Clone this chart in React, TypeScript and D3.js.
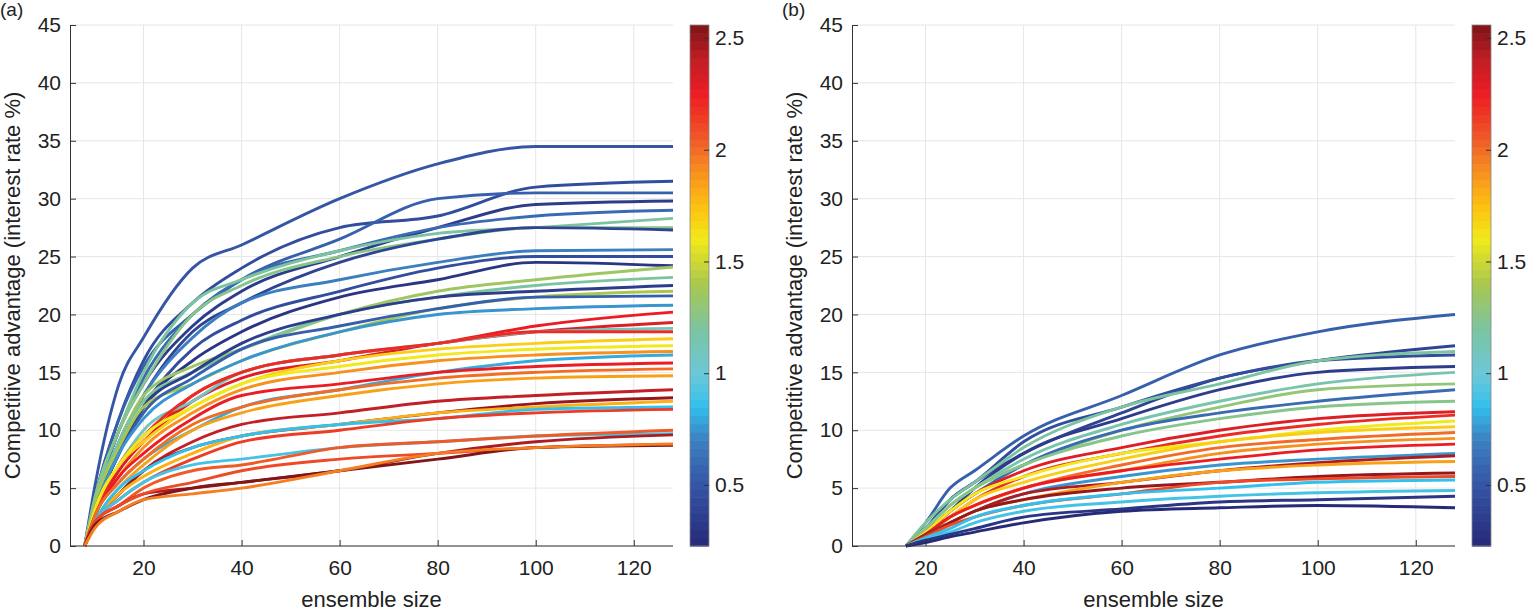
import React, { useEffect, useRef } from 'react'
import * as d3 from 'd3'

// x positions of sampled points (first point is the zero start)
const xsA = [8, 10, 15, 20, 30, 40, 60, 80, 100, 128]
const xsB = [16, 20, 25, 30, 40, 60, 80, 100, 128]

// [colour value, ...y values after the zero start]
const linesA: number[][] = [
  [0.5, 5, 14, 18, 24, 26, 30, 33, 34.5, 34.5],
  [0.45, 4, 11, 16, 21, 24, 27.5, 28.5, 31, 31.5],
  [0.55, 4, 11, 15.5, 20, 23, 26.5, 30, 30.5, 30.5],
  [0.35, 3.5, 10, 14, 19, 22, 25, 27.5, 29.5, 29.8],
  [0.6, 3.5, 10, 14.5, 20, 23, 25.5, 27.5, 28.5, 29],
  [1.2, 4, 10, 15, 21, 23, 25.5, 27, 27.5, 28.3],
  [1.25, 4, 10, 14, 20, 22.5, 25, 26.5, 27.5, 27.5],
  [0.4, 3, 9, 13, 18.5, 21, 24.5, 26.5, 27.5, 27.3],
  [0.7, 3, 9, 13, 18, 21, 23, 24.5, 25.5, 25.6],
  [0.45, 3, 8, 12, 17, 19.5, 22, 24, 25, 25],
  [0.3, 3, 8, 12, 16, 18.5, 21.5, 23, 24.5, 24.2],
  [1.35, 3.5, 9, 13, 15.5, 17, 20, 22, 23, 24.1],
  [1.2, 3.5, 9, 12.5, 15, 17, 20, 21.5, 22.5, 23.2],
  [0.35, 3, 8, 12, 15, 17.5, 20, 21.5, 22, 22.5],
  [1.4, 3.5, 8.5, 12, 14, 16, 18.5, 20.5, 21.5, 22],
  [0.55, 3, 8, 11.5, 14.5, 17, 19, 20.5, 21.5, 21.6],
  [0.75, 3, 8, 11, 14, 16, 18.5, 20, 20.5, 20.8],
  [2.25, 2.5, 7, 9, 13, 15, 16.5, 17.5, 19, 20.2],
  [2.3, 2.5, 6.5, 9, 12.5, 14.5, 16, 17.5, 18.5, 19.3],
  [1.1, 3, 7, 10, 12.5, 15, 16.5, 17.5, 18.5, 18.8],
  [2.2, 2.5, 7, 9.5, 13, 15, 16.5, 17.5, 18.5, 18.5],
  [1.7, 3, 7, 9, 12, 14, 16, 17, 17.5, 17.9],
  [1.6, 3, 7, 9.5, 12, 14, 15.5, 16.5, 17, 17.3],
  [1.9, 2.5, 6, 8.5, 11.5, 13.5, 15, 16, 16.5, 16.8],
  [0.8, 2.5, 5.5, 7.5, 10, 12, 13.5, 15, 16, 16.5],
  [2.25, 2.5, 6, 8, 11, 13, 14, 15, 15.5, 15.8],
  [2.0, 2.5, 5.5, 7.5, 10.5, 12, 13.5, 14.5, 15, 15.3],
  [1.85, 2, 5, 7, 10, 11.5, 13, 14, 14.5, 14.7],
  [2.4, 2, 4.5, 6.5, 9, 10.5, 11.5, 12.5, 13, 13.5],
  [2.5, 2, 4.5, 6.5, 8.5, 9.5, 10.5, 11.5, 12.3, 12.8],
  [1.8, 2, 4.5, 6, 8, 9.5, 10.5, 11.5, 12, 12.5],
  [0.85, 2, 5, 6.5, 8.5, 9.5, 10.5, 11, 11.8, 12],
  [2.15, 2, 4, 5.5, 7.5, 9, 10, 11, 11.5, 11.8],
  [0.9, 2, 4, 5.5, 7, 7.5, 8.5, 9, 9.5, 9.7],
  [2.05, 2, 3.5, 5, 6.5, 7, 8.5, 9, 9.5, 10],
  [2.45, 2, 3.5, 4.5, 5, 5.5, 6.5, 8, 9, 9.6],
  [2.1, 2, 3.5, 4.5, 5.5, 6.5, 7.5, 8, 8.5, 8.8],
  [2.55, 1.8, 3, 4, 5, 5.5, 6.5, 7.5, 8.5, 8.7],
  [1.95, 1.5, 3, 4, 4.5, 5, 6.5, 8, 8.5, 8.8],
]

const linesB: number[][] = [
  [0.55, 2, 5, 6.5, 9.5, 13, 16.5, 18.5, 20],
  [0.4, 1.5, 4, 5.5, 8, 11.5, 14.5, 16, 17.3],
  [0.45, 1.5, 4, 5.5, 9, 12, 14.5, 16, 16.5],
  [1.2, 2, 4, 5.5, 8.5, 12, 14, 16, 16.8],
  [0.35, 1.2, 3, 5, 8, 11, 13.5, 15, 15.5],
  [1.15, 1.5, 3.5, 5, 7.5, 10.5, 12.5, 14, 15],
  [1.3, 1.5, 3.5, 5, 7, 10, 12, 13.5, 14],
  [0.6, 1.2, 3, 4.5, 7, 10, 11.5, 12.5, 13.5],
  [1.25, 1.5, 3.5, 5, 7, 9.5, 11, 12, 12.5],
  [2.3, 1.2, 3, 4.5, 6.5, 8.5, 10, 11, 11.6],
  [2.2, 1, 2.5, 4, 6, 8, 9.5, 10.5, 11.3],
  [1.6, 1.2, 3, 4.5, 6, 8, 9, 10, 10.8],
  [1.7, 1, 2.5, 4, 5.5, 7.5, 9, 9.8, 10.3],
  [2.0, 1, 2.5, 3.5, 5, 7, 8.5, 9.2, 9.8],
  [1.9, 1, 2.5, 3.5, 5, 6.5, 8, 8.8, 9.3],
  [2.25, 1, 2.5, 3.5, 5, 6.5, 7.5, 8.3, 8.8],
  [0.75, 1, 2, 3, 4.5, 6, 7, 7.5, 8],
  [2.45, 1, 2, 3, 4.5, 5.5, 6.5, 7.2, 7.8],
  [1.85, 0.8, 2, 3, 4, 5.5, 6.5, 7, 7.3],
  [2.5, 0.8, 2, 3, 4, 5, 5.5, 6, 6.3],
  [2.1, 0.8, 1.8, 2.5, 3.5, 4.5, 5.5, 5.8, 6],
  [0.85, 0.7, 1.5, 2.5, 3.5, 4.5, 5, 5.5, 5.7],
  [0.9, 0.6, 1.2, 2, 3, 3.8, 4.3, 4.6, 4.8],
  [0.2, 0.3, 0.8, 1.2, 2, 3, 3.3, 3.5, 3.3],
  [0.3, 0.5, 1, 1.5, 2.5, 3.2, 3.8, 4, 4.3],
]

const colorStops = [0.23, 0.5, 0.7, 0.85, 1.0, 1.2, 1.4, 1.6, 1.75, 1.9, 2.05, 2.25, 2.4, 2.56]
const colorHex = ['#262a78', '#3555a5', '#3c7fc0', '#32c0ec', '#6cc8d8', '#7cc4a0', '#a9c74e', '#f1e91b', '#fdc010', '#f7901e', '#ef5a28', '#ec1c24', '#c21f26', '#7d1416']
const xTicks = [20, 40, 60, 80, 100, 120]
const yTicks = [0, 5, 10, 15, 20, 25, 30, 35, 40, 45]
const cbTicks = [0.5, 1, 1.5, 2, 2.5]

const font = '"Liberation Sans", Arial, sans-serif'

const color = d3.scaleLinear<string>().domain(colorStops).range(colorHex).interpolate(d3.interpolateRgb).clamp(true)

const panels = [
  { label: '(a)', xs: xsA, lines: linesA, left: 70, right: 673, cb: 690, xDomain: [5, 128] },
  { label: '(b)', xs: xsB, lines: linesB, left: 852, right: 1455, cb: 1472, xDomain: [5, 128] },
]

const top = 25
const bottom = 546

export default function App() {
  const ref = useRef<SVGSVGElement>(null)

  useEffect(() => {
    const svg = d3.select(ref.current)
    svg.selectAll('*').remove()
    svg.attr('font-family', font)

    panels.forEach((p) => {
      const x = d3.scaleLinear().domain(p.xDomain).range([p.left, p.right])
      const y = d3.scaleLinear().domain([0, 45]).range([bottom, top])
      const g = svg.append('g')

      // grid
      g.selectAll('.gx').data(xTicks).enter().append('line')
        .attr('x1', (d) => x(d)).attr('x2', (d) => x(d)).attr('y1', top).attr('y2', bottom)
        .attr('stroke', '#e6e6e6')
      g.selectAll('.gy').data(yTicks).enter().append('line')
        .attr('x1', p.left).attr('x2', p.right).attr('y1', (d) => y(d)).attr('y2', (d) => y(d))
        .attr('stroke', '#e6e6e6')

      // lines
      const line = d3.line<[number, number]>().x((d) => x(d[0])).y((d) => y(d[1])).curve(d3.curveMonotoneX)
      p.lines.forEach((l) => {
        const pts: [number, number][] = p.xs.map((xv, i) => [xv, i === 0 ? 0 : l[i]])
        g.append('path').attr('d', line(pts)).attr('fill', 'none')
          .attr('stroke', color(l[0])).attr('stroke-width', 2.9)
      })

      // axes
      const xa = g.append('g').attr('transform', `translate(0,${bottom})`)
        .call(d3.axisBottom(x).tickValues(xTicks).tickSize(-6).tickPadding(14))
      const ya = g.append('g').attr('transform', `translate(${p.left},0)`)
        .call(d3.axisLeft(y).tickValues(yTicks).tickSize(-6).tickPadding(9))
      ;[xa, ya].forEach((a) => {
        a.selectAll('.domain, .tick line').attr('stroke', '#333')
        a.selectAll('text').attr('font-size', 21).attr('fill', '#222').attr('font-family', font)
      })
      xa.select('.domain').attr('d', `M${p.left},0H${p.right}`)

      g.append('text').attr('x', (p.left + p.right) / 2).attr('y', 607).attr('text-anchor', 'middle')
        .attr('font-size', 22).attr('fill', '#222').text('ensemble size')
      g.append('text').attr('transform', `translate(${p.left - 50},${(top + bottom) / 2}) rotate(-90)`)
        .attr('text-anchor', 'middle').attr('font-size', 22).attr('fill', '#222')
        .text('Competitive advantage (interest rate %)')
      g.append('text').attr('x', p.left - 70).attr('y', 16).attr('font-size', 19).attr('fill', '#222').text(p.label)

      // colourbar
      const cy = d3.scaleLinear().domain([0.227, 2.558]).range([bottom, top])
      const steps = d3.range(64).map((i) => 0.227 + ((2.558 - 0.227) * i) / 64)
      const h = (bottom - top) / 64
      g.selectAll('.cb').data(steps).enter().append('rect')
        .attr('x', p.cb).attr('width', 19).attr('y', (d) => cy(d) - h).attr('height', h + 0.6)
        .attr('fill', (d) => color(d + 0.018))
      g.append('rect').attr('x', p.cb).attr('y', top).attr('width', 19).attr('height', bottom - top)
        .attr('fill', 'none').attr('stroke', '#888').attr('stroke-width', 0.8)
      const ca = g.append('g').attr('transform', `translate(${p.cb + 19},0)`)
        .call(d3.axisRight(cy).tickValues(cbTicks).tickSize(-5).tickPadding(6).tickFormat((d) => String(d)))
      ca.select('.domain').remove()
      ca.selectAll('.tick line').attr('stroke', '#333')
      ca.selectAll('text').attr('font-size', 21).attr('fill', '#222').attr('font-family', font)
    })
  }, [])

  return (
    <svg ref={ref} width={1536} height={614} style={{ position: 'absolute', left: 0, top: 0, background: '#fff' }} />
  )
}
